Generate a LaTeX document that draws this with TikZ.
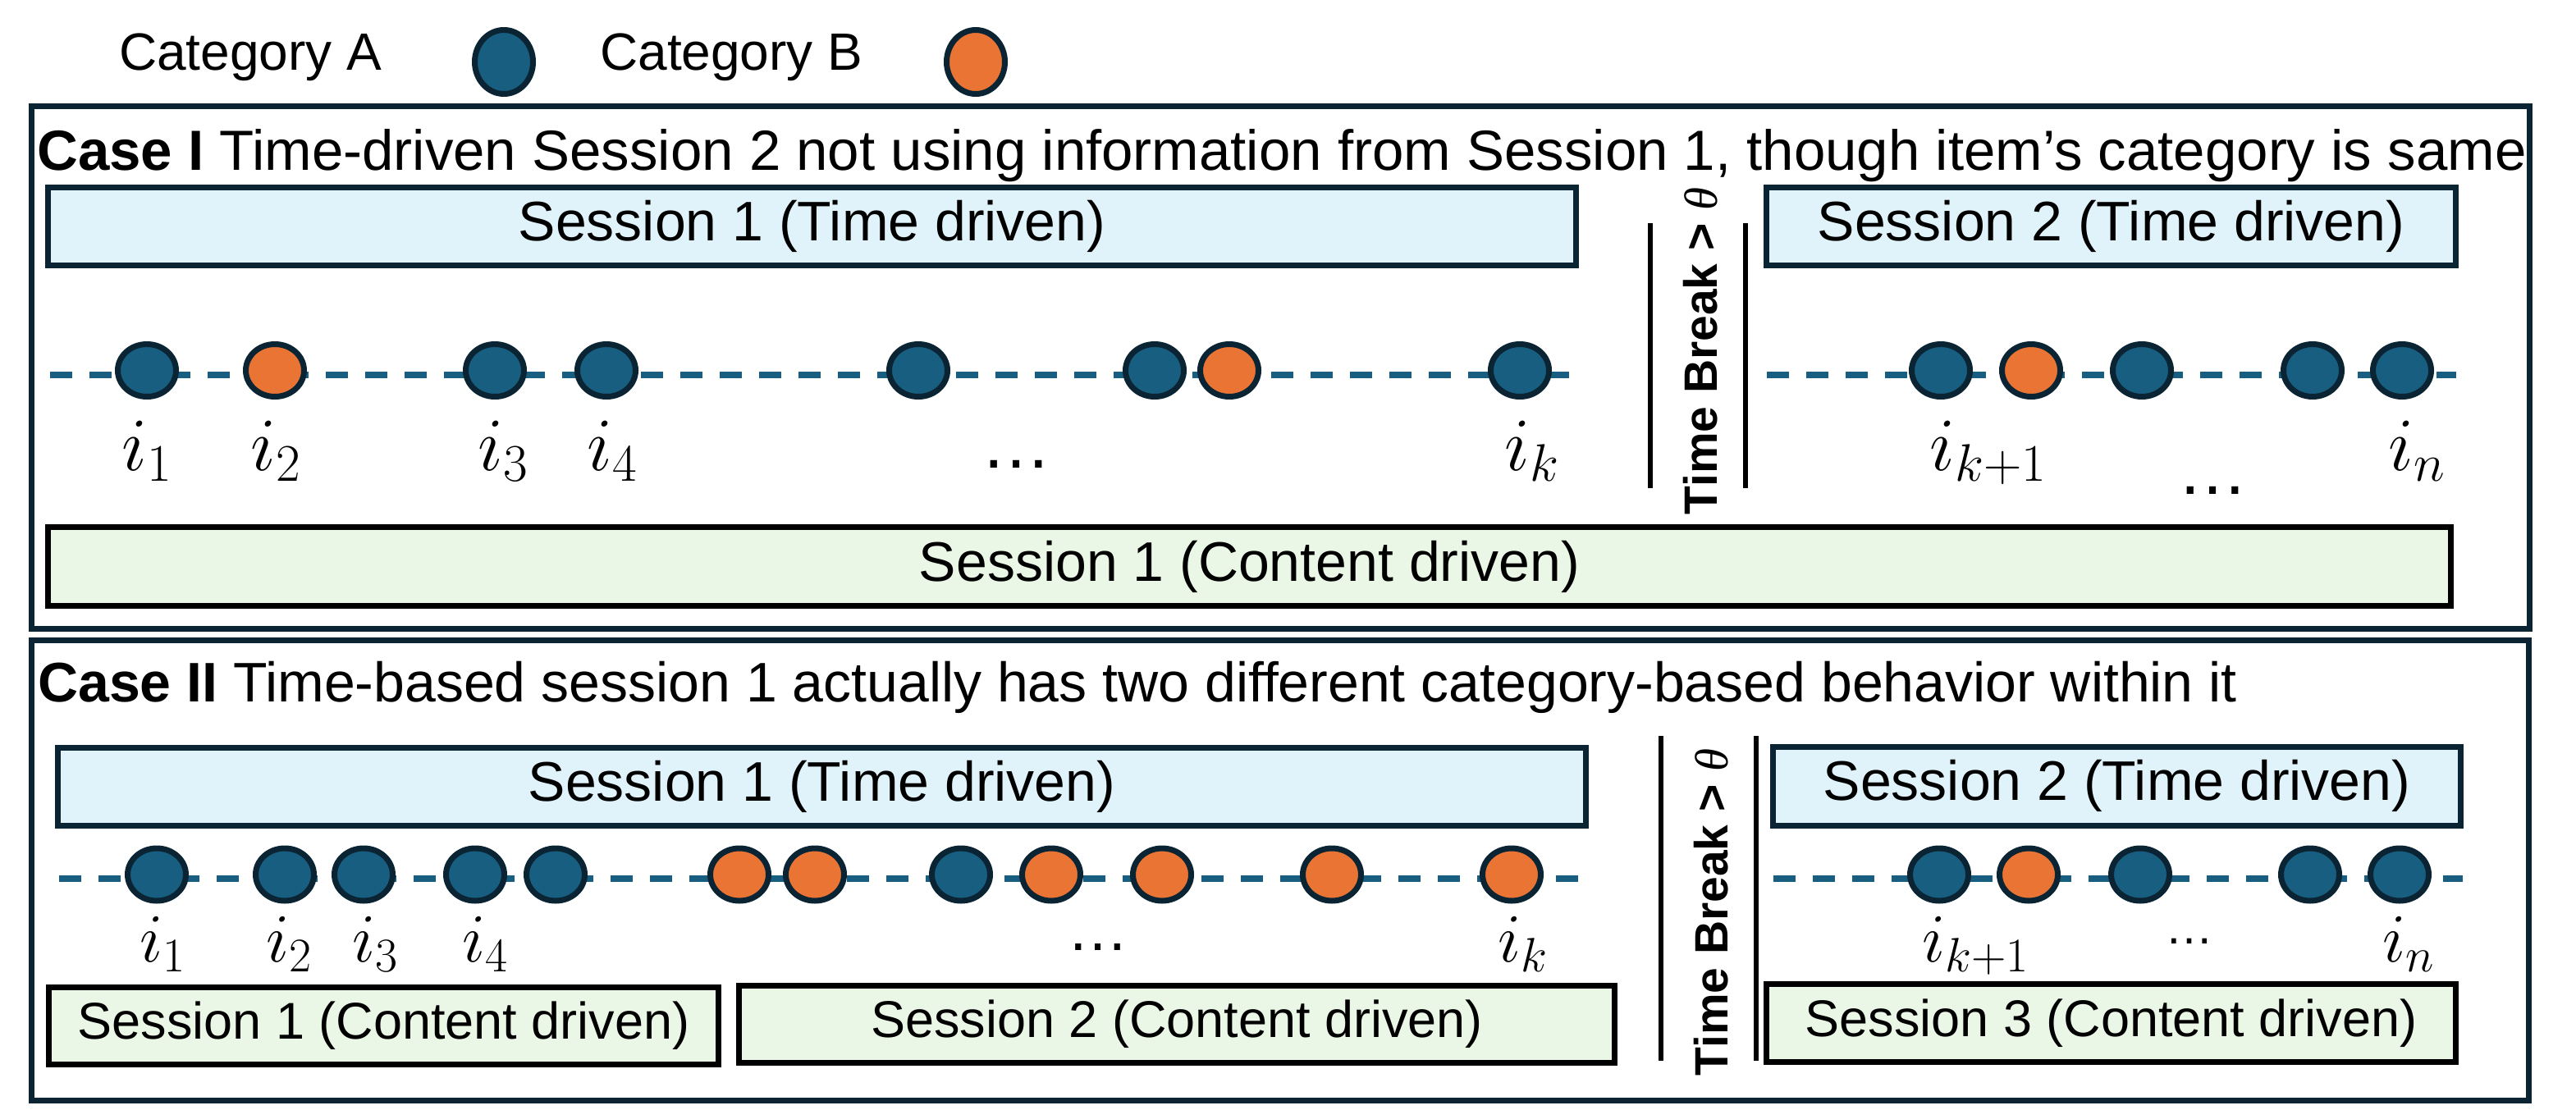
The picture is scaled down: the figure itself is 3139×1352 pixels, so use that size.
\RequirePackage{fix-cm}
\documentclass[tikz,border=0pt]{standalone}
\usepackage[no-math]{fontspec}
\setmainfont{Liberation Sans}
\newfontfamily\thetafont{Liberation Serif}
\usetikzlibrary{shapes.geometric}
\definecolor{navy}{HTML}{0A2434}
\definecolor{dotblue}{HTML}{175E80}
\definecolor{dotorange}{HTML}{E97434}
\definecolor{timefill}{HTML}{E0F2FA}
\definecolor{contfill}{HTML}{EBF7E6}
\begin{document}
\begin{tikzpicture}[x=1pt,y=-1pt,
  dotA/.style={ellipse, draw=navy, line width=7pt, fill=dotblue, minimum width=71pt, minimum height=64pt, inner sep=0pt},
  dotB/.style={dotA, fill=dotorange},
  legA/.style={dotA, minimum height=78pt},
  legB/.style={legA, fill=dotorange},
  casebox/.style={draw=navy, line width=7pt},
  timebox/.style={draw=navy, fill=timefill, line width=7pt, inner sep=0pt, font=\fontsize{68}{80}\selectfont},
  contbox/.style={draw=black, fill=contfill, line width=7pt, inner sep=0pt, font=\fontsize{68}{80}\selectfont},
  contsmall/.style={contbox, font=\fontsize{63}{74}\selectfont},
  timeline/.style={draw=dotblue, line width=8pt, dash pattern=on 27pt off 21pt},
  breakline/.style={draw=black, line width=6pt},
  breaktext/.style={rotate=90, inner sep=0pt, font=\fontsize{57}{66}\selectfont\bfseries},
  title/.style={anchor=base west, inner sep=0pt, font=\fontsize{68}{80}\selectfont},
  legtext/.style={anchor=base west, inner sep=0pt, font=\fontsize{64}{76}\selectfont},
  lblI/.style={anchor=base, inner sep=0pt, font=\fontsize{92}{100}\selectfont},
  lblII/.style={anchor=base, inner sep=0pt, font=\fontsize{84}{92}\selectfont},
  dots/.style={anchor=base, inner sep=0pt}
]
\useasboundingbox (0,0) rectangle (3139,1352);

% legend
\node[legtext] (catAt) at (145,85) {Category A};
\node[legA] (catA) at (614,75.5) {};
\node[legtext] (catBt) at (731,85) {Category B};
\node[legB] (catB) at (1189,75.5) {};

% case frames
\draw[casebox] (38.5,129.5) rectangle (3082.5,766);
\draw[casebox] (38.5,780.5) rectangle (3081.5,1341.5);

% ---------------- Case I ----------------
\node[title, font=\fontsize{69}{80}\selectfont] (titleI) at (45,207) {\textbf{Case I} Time-driven Session 2 not using information from Session 1, though item’s category is same};
\node[timebox, minimum width=1862pt, minimum height=95pt] (tI1) at (989.5,276) {Session 1 (Time driven)};
\node[timebox, minimum width=840pt, minimum height=95pt] (tI2) at (2572.5,276) {Session 2 (Time driven)};
\node[contbox, minimum width=2928pt, minimum height=96pt] (cI1) at (1522.5,690.5) {Session 1 (Content driven)};

\coordinate (lIa) at (61,457);
\coordinate (lIb) at (1917,457);
\coordinate (lIc) at (2153,457);
\coordinate (lId) at (2993,457);
\draw[timeline] (lIa) -- (lIb);
\draw[timeline] (lIc) -- (lId);

\node[dotA] (aI1) at (179,451.5) {};
\node[dotB] (aI2) at (335,451.5) {};
\node[dotA] (aI3) at (603,451.5) {};
\node[dotA] (aI4) at (739,451.5) {};
\node[dotA] (aI5) at (1119,451.5) {};
\node[dotA] (aI6) at (1407,451.5) {};
\node[dotB] (aI7) at (1498,451.5) {};
\node[dotA] (aI8) at (1852,451.5) {};
\node[dotA] (aI9) at (2365,451.5) {};
\node[dotB] (aI10) at (2475,451.5) {};
\node[dotA] (aI11) at (2610,451.5) {};
\node[dotA] (aI12) at (2818,451.5) {};
\node[dotA] (aI13) at (2927,451.5) {};

\node[lblI] (nI1) at (179,573) {$i_1$};
\node[lblI] (nI2) at (336,573) {$i_2$};
\node[lblI] (nI3) at (613,573) {$i_3$};
\node[lblI] (nI4) at (746,573) {$i_4$};
\node[dots, font=\fontsize{86}{96}\selectfont] (eI1) at (1238,570) {…};
\node[lblI] (nIk) at (1867,573) {$i_k$};
\node[lblI] (nIk1) at (2423,573) {$i_{k+1}$};
\node[dots, font=\fontsize{86}{96}\selectfont] (eI2) at (2696,602) {…};
\node[lblI] (nIn) at (2945,573) {$i_n$};

\coordinate (bIa1) at (2011,272);
\coordinate (bIa2) at (2011,595);
\coordinate (bIb1) at (2127,272);
\coordinate (bIb2) at (2127,595);
\draw[breakline] (bIa1) -- (bIa2);
\draw[breakline] (bIb1) -- (bIb2);
\node[breaktext] (brI) at (2072,428) {Time Break > {\thetafont\mdseries\itshape θ}};

% ---------------- Case II ----------------
\node[title] (titleII) at (46,855) {\textbf{Case II} Time-based session 1 actually has two different category-based behavior within it};
\node[timebox, minimum width=1862pt, minimum height=95pt] (tII1) at (1001.5,958.5) {Session 1 (Time driven)};
\node[timebox, minimum width=838pt, minimum height=96pt] (tII2) at (2579.5,958) {Session 2 (Time driven)};
\node[contsmall, minimum width=816pt, minimum height=94pt] (cII1) at (467.5,1250.5) {Session 1 (Content driven)};
\node[contsmall, minimum width=1067pt, minimum height=94pt] (cII2) at (1434,1248.5) {Session 2 (Content driven)};
\node[contsmall, minimum width=840pt, minimum height=95pt] (cII3) at (2572.5,1247) {Session 3 (Content driven)};

\coordinate (lIIa) at (72,1071);
\coordinate (lIIb) at (1928,1071);
\coordinate (lIIc) at (2161,1071);
\coordinate (lIId) at (3001,1071);
\draw[timeline] (lIIa) -- (lIIb);
\draw[timeline] (lIIc) -- (lIId);

\node[dotA] (bII1) at (191,1066) {};
\node[dotA] (bII2) at (347,1066) {};
\node[dotA] (bII3) at (443,1066) {};
\node[dotA] (bII4) at (579,1066) {};
\node[dotA] (bII5) at (677,1066) {};
\node[dotB] (bII6) at (901,1066) {};
\node[dotB] (bII7) at (993,1066) {};
\node[dotA] (bII8) at (1171,1066) {};
\node[dotB] (bII9) at (1281,1066) {};
\node[dotB] (bII10) at (1416,1066) {};
\node[dotB] (bII11) at (1623,1066) {};
\node[dotB] (bII12) at (1842,1066) {};
\node[dotA] (bII13) at (2363,1066) {};
\node[dotB] (bII14) at (2472,1066) {};
\node[dotA] (bII15) at (2608,1066) {};
\node[dotA] (bII16) at (2815,1066) {};
\node[dotA] (bII17) at (2924,1066) {};

\node[lblII] (mII1) at (198,1172) {$i_1$};
\node[lblII] (mII2) at (352,1172) {$i_2$};
\node[lblII] (mII3) at (457,1172) {$i_3$};
\node[lblII] (mII4) at (591,1172) {$i_4$};
\node[dots, font=\fontsize{75}{85}\selectfont] (eII1) at (1338,1158) {…};
\node[lblII] (mIIk) at (1856,1172) {$i_k$};
\node[lblII] (mIIk1) at (2407,1172) {$i_{k+1}$};
\node[dots, font=\fontsize{59}{70}\selectfont] (eII2) at (2668,1150) {…};
\node[lblII] (mIIn) at (2935,1172) {$i_n$};

\coordinate (bIIa1) at (2023.5,897);
\coordinate (bIIa2) at (2023.5,1293);
\coordinate (bIIb1) at (2140,897);
\coordinate (bIIb2) at (2140,1293);
\draw[breakline] (bIIa1) -- (bIIa2);
\draw[breakline] (bIIb1) -- (bIIb2);
\node[breaktext] (brII) at (2085,1112) {Time Break > {\thetafont\mdseries\itshape θ}};
\end{tikzpicture}
\end{document}
